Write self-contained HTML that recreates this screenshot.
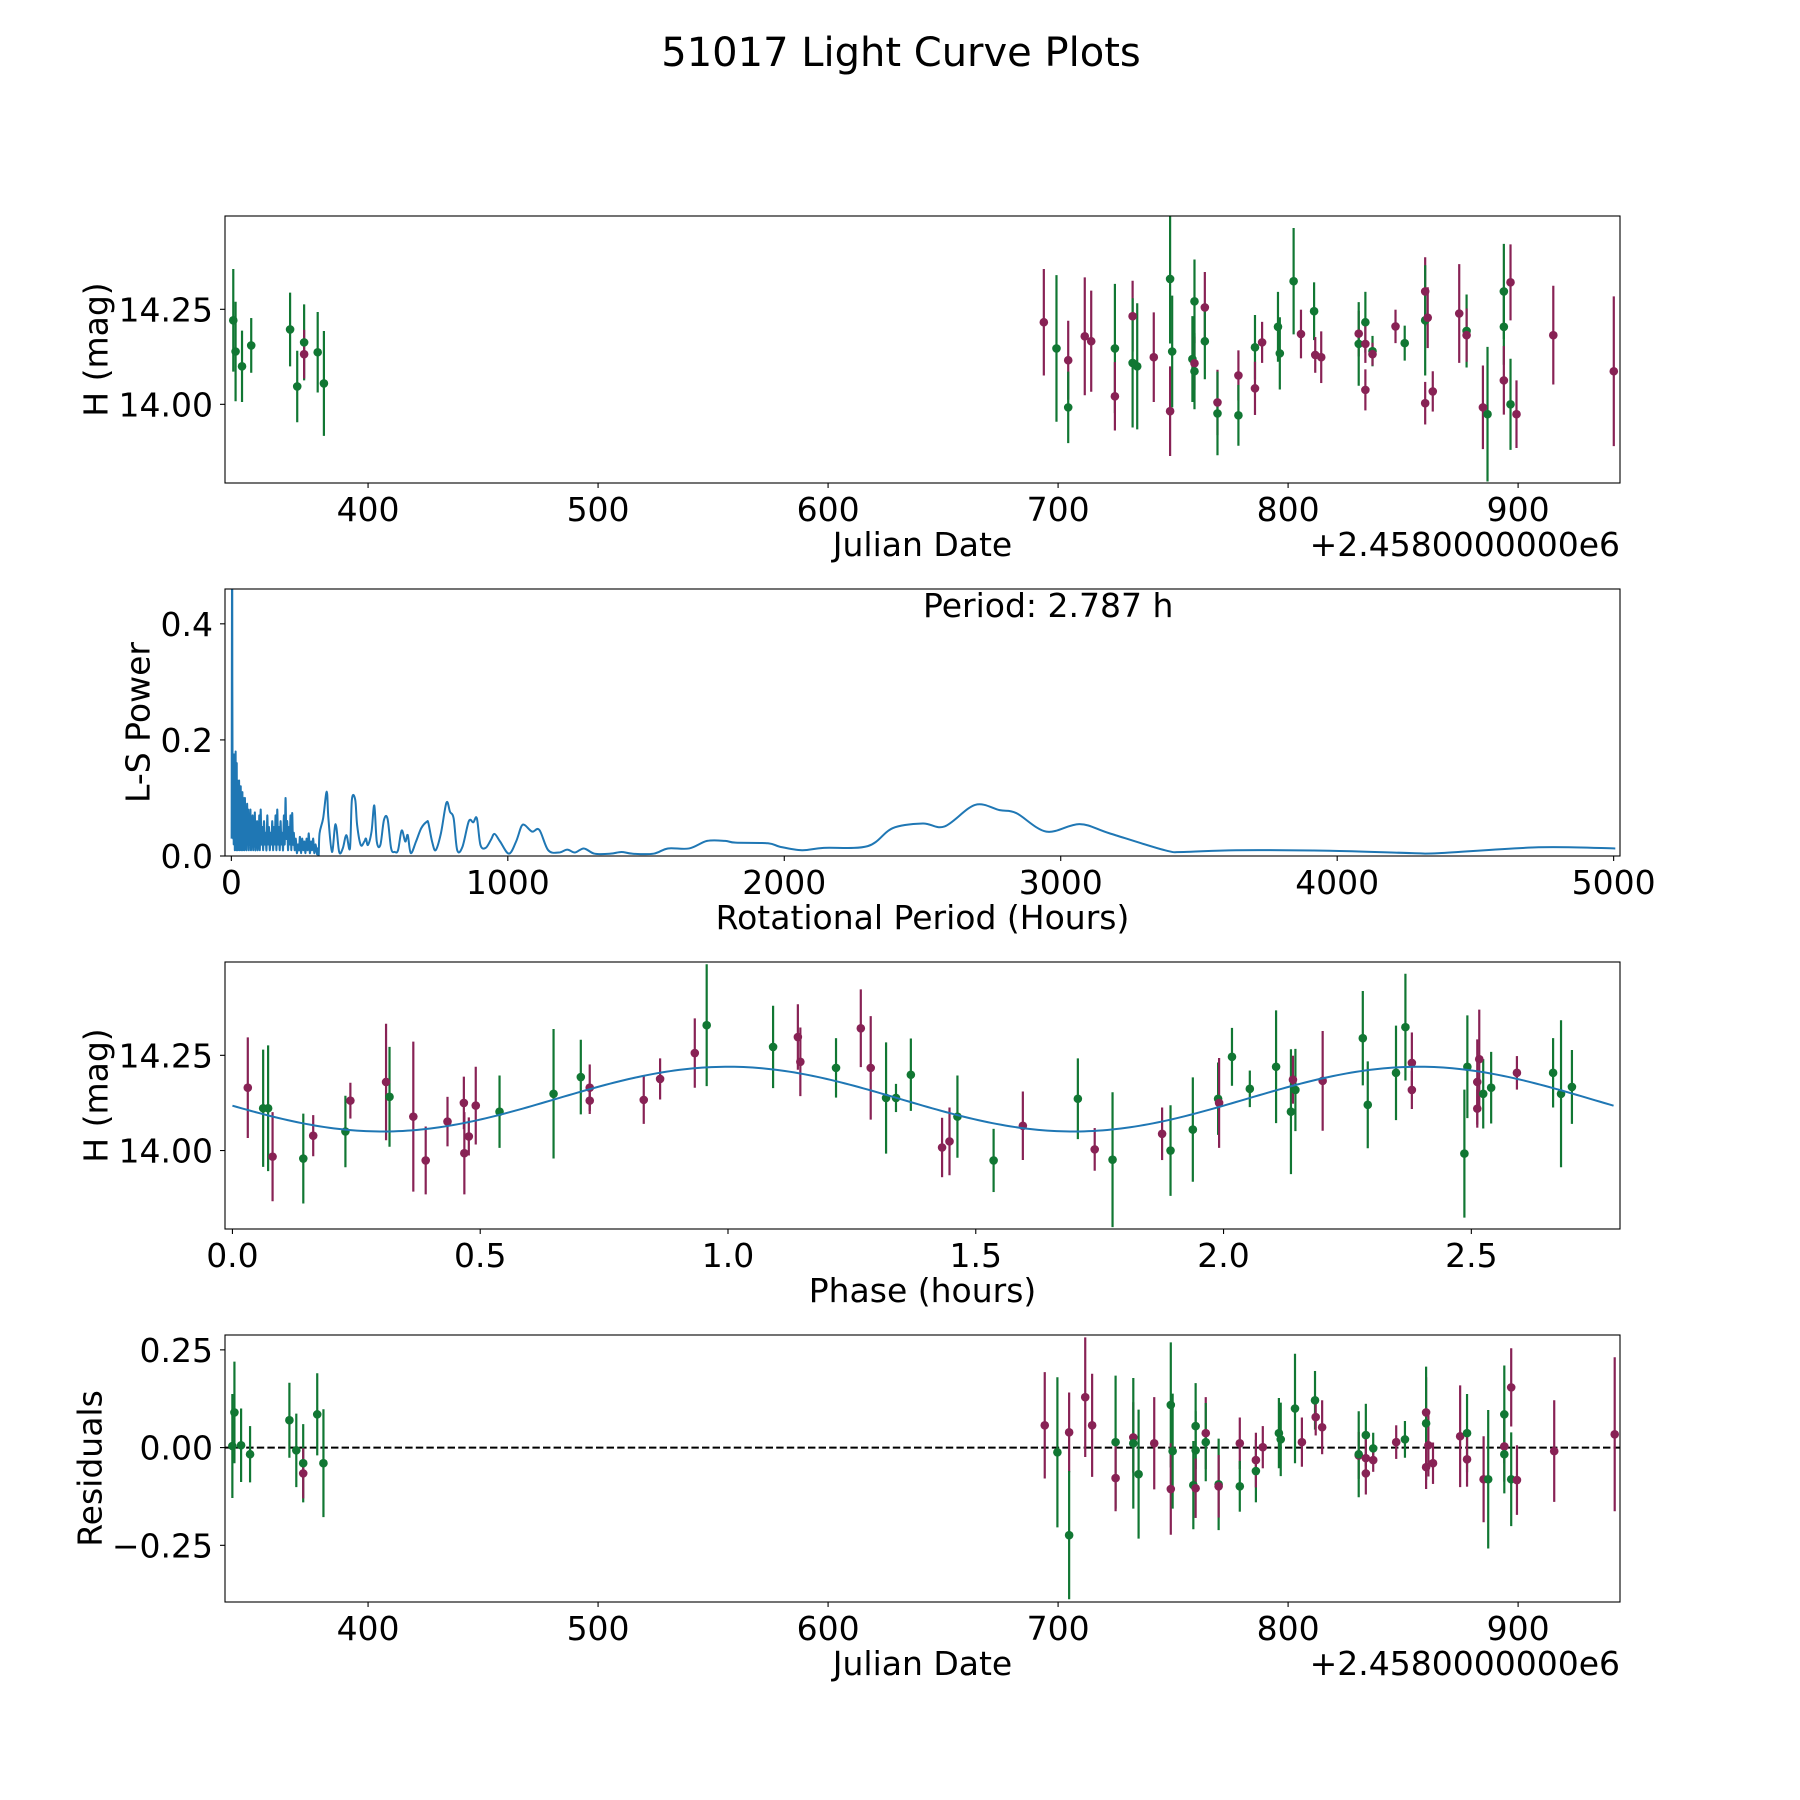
<!DOCTYPE html>
<html><head><meta charset="utf-8"><title>51017 Light Curve Plots</title>
<style>
html,body{margin:0;padding:0;background:#fff;}
svg{display:block;font-family:"DejaVu Sans","Liberation Sans",sans-serif;}
</style></head>
<body>
<svg id="fig" width="1800" height="1800" viewBox="0 0 1800 1800" xmlns="http://www.w3.org/2000/svg">
<rect width="1800" height="1800" fill="#fff"/>
<text x="901" y="66" font-size="40" text-anchor="middle" fill="#000">51017 Light Curve Plots</text>
</svg>
<script>
// ---------- Panel 1: light curve (Julian Date offset from 2458000) ----------
const lcJD = [341.4,342.4,345.2,349.2,366.1,369.2,372.2,372.2,378.1,380.8,
 693.8,699.3,704.4,704.4,711.6,714.4,724.7,724.7,732.4,732.4,734.4,741.6,748.7,748.7,749.6,758.4,759.3,759.3,759.3,763.8,763.8,769.3,769.3,778.4,778.4,785.6,785.6,788.7,795.6,796.4,802.4,805.6,811.3,811.8,814.4,830.7,830.7,833.6,833.6,833.6,836.7,836.7,846.7,850.7,859.6,859.6,860.7,859.6,862.9,874.4,877.6,877.6,884.7,886.7,893.8,893.8,893.8,896.7,896.7,899.3,915.3,941.6];
const lcMag = [14.221,14.139,14.100,14.155,14.197,14.047,14.163,14.132,14.137,14.055,
 14.216,14.147,14.116,13.992,14.179,14.166,14.147,14.021,14.232,14.109,14.100,14.124,14.330,13.982,14.139,14.119,14.271,14.108,14.087,14.255,14.166,14.005,13.976,14.076,13.971,14.150,14.042,14.163,14.204,14.134,14.324,14.185,14.245,14.130,14.124,14.186,14.159,14.216,14.159,14.038,14.140,14.132,14.205,14.161,14.297,14.221,14.228,14.003,14.034,14.239,14.193,14.182,13.992,13.974,14.297,14.204,14.063,14.321,14.000,13.974,14.182,14.087];
const lcErr = [0.135,0.131,0.094,0.072,0.097,0.094,0.100,0.064,0.106,0.138,
 0.140,0.193,0.104,0.094,0.155,0.133,0.170,0.090,0.093,0.170,0.166,0.118,0.170,0.118,0.147,0.113,0.110,0.070,0.100,0.093,0.100,0.086,0.110,0.066,0.080,0.085,0.070,0.054,0.092,0.095,0.140,0.064,0.076,0.047,0.068,0.060,0.110,0.080,0.050,0.054,0.040,0.030,0.044,0.046,0.090,0.145,0.080,0.056,0.053,0.130,0.096,0.070,0.110,0.177,0.125,0.100,0.090,0.100,0.120,0.089,0.130,0.197];
const lcBand = ['g','g','g','g','g','g','g','m','g','g',
 'm','g','m','g','m','m','g','m','m','g','g','m','g','m','g','g','g','m','g','m','g','m','g','m','g','g','m','m','g','g','g','m','g','m','m','m','g','g','m','m','g','m','m','g','m','g','m','m','m','m','g','m','m','g','g','g','m','m','g','m','m','m'];

// ---------- Panel 2: Lomb-Scargle periodogram ----------
const lsPeriod = [1,2.8,3.5,4.5,5.5,6.5,7.5,8.5,9.5,10.5,11.5,12.5,13.5,14.5,15.5,16.5,17.5,18.5,19.5,20.5,22,23.5,25,26.5,28,29.5,31,32.5,34,35.5,37,38.5,40,41.5,43,44.5,46,47.5,49,51,53,55,57,59,61,63,65,67,69,71,73,75,77,79,81,83,85,87,89,91,93,95,97,99,101,103,106,109,112,115,118,121,124,127,130,133,136,139,142,145,148,151,154,157,160,163,166,169,172,175,178,181,184,187,190,193,196,199,202,205,208,211,214,217,220,223,226,229,233,237,241,245,248,252,256,260,264,268,272,276,280,284,288,292,296,300,305,310,313,316,
 319,332,345,351,364,377,390,403,416,429,436,448,455,468,481,487,494,507,517,526,539,552,565,578,591,603,616,629,638,649,668,687,707,713,726,739,758,778,791,804,817,836,859,875,888,901,920,939,952,972,1004,1030,1049,1062,1088,1114,1146,1185,1215,1243,1275,1314,1372,1411,1450,1527,1579,1656,1721,1786,1824,1941,1984,2064,2143,2302,2392,2501,2580,2690,2779,2839,2948,3068,3177,3376,3445,3634,3972,4270,4370,4728,5006];
const lsPower = [0.03,0.62,0.30,0.12,0.17,0.03,0.16,0.02,0.175,0.04,0.15,0.01,0.17,0.03,0.18,0.02,0.15,0.01,0.16,0.03,0.13,0.01,0.12,0.02,0.13,0.01,0.12,0.03,0.12,0.01,0.10,0.02,0.11,0.01,0.10,0.03,0.09,0.01,0.10,0.02,0.08,0.01,0.09,0.02,0.08,0.01,0.07,0.02,0.08,0.01,0.06,0.02,0.07,0.01,0.06,0.02,0.075,0.01,0.05,0.02,0.06,0.01,0.05,0.02,0.07,0.01,0.08,0.02,0.05,0.01,0.06,0.02,0.04,0.01,0.07,0.02,0.05,0.01,0.04,0.02,0.06,0.01,0.05,0.02,0.07,0.01,0.08,0.02,0.05,0.01,0.06,0.02,0.04,0.01,0.07,0.02,0.10,0.03,0.06,0.01,0.05,0.02,0.07,0.01,0.074,0.02,0.04,0.01,0.03,0.005,0.02,0.01,0.033,0.005,0.03,0.01,0.025,0.005,0.03,0.01,0.039,0.005,0.025,0.01,0.03,0.005,0.02,0.003,0.013,0.002,
 0.039,0.065,0.111,0.065,0.007,0.055,0.007,0.013,0.036,0.013,0.097,0.097,0.053,0.019,0.025,0.030,0.019,0.042,0.087,0.025,0.019,0.062,0.064,0.013,0.007,0.010,0.044,0.025,0.036,0.005,0.025,0.048,0.059,0.056,0.025,0.010,0.039,0.092,0.076,0.065,0.010,0.016,0.060,0.058,0.065,0.019,0.014,0.028,0.038,0.025,0.004,0.025,0.051,0.053,0.042,0.045,0.010,0.006,0.011,0.006,0.013,0.004,0.004,0.007,0.004,0.004,0.013,0.013,0.026,0.026,0.023,0.022,0.016,0.010,0.014,0.017,0.048,0.056,0.051,0.088,0.079,0.074,0.042,0.055,0.039,0.010,0.007,0.010,0.009,0.005,0.005,0.015,0.013];
const periodLabel = 'Period: 2.787 h';

// ---------- Panel 3: phase-folded ----------
const phHours = [0.031,0.062,0.072,0.081,0.143,0.163,0.228,0.238,0.310,0.317,0.365,0.390,0.434,0.467,0.468,0.477,0.491,0.539,0.648,0.703,0.721,0.721,0.830,0.863,0.933,0.957,1.091,1.141,1.146,1.218,1.268,1.288,1.319,1.339,1.369,
 1.432,1.447,1.463,1.536,1.595,1.706,1.740,1.776,1.876,1.893,1.938,1.989,1.991,2.017,2.053,2.106,2.136,2.140,2.145,2.200,2.281,2.291,2.348,2.367,2.380,2.380,2.486,2.492,2.512,2.516,2.512,2.524,2.540,2.592,2.665,2.681,2.703];
const phMag = [14.165,14.111,14.111,13.984,13.979,14.039,14.050,14.131,14.180,14.141,14.089,13.974,14.076,14.125,13.993,14.037,14.118,14.102,14.149,14.193,14.165,14.131,14.133,14.188,14.256,14.329,14.272,14.298,14.233,14.217,14.321,14.217,14.138,14.138,14.199,
 14.008,14.024,14.089,13.974,14.065,14.136,14.003,13.976,14.044,14.000,14.055,14.136,14.125,14.246,14.162,14.220,14.102,14.186,14.159,14.183,14.295,14.120,14.204,14.324,14.230,14.159,13.992,14.220,14.180,14.240,14.110,14.149,14.165,14.204,14.204,14.149,14.167];
const phErr = [0.132,0.154,0.165,0.117,0.118,0.054,0.094,0.047,0.153,0.131,0.197,0.089,0.065,0.069,0.108,0.050,0.102,0.095,0.170,0.098,0.061,0.035,0.063,0.054,0.091,0.160,0.108,0.086,0.090,0.078,0.102,0.136,0.146,0.037,0.095,
 0.078,0.089,0.108,0.083,0.090,0.106,0.056,0.177,0.069,0.119,0.137,0.095,0.118,0.076,0.048,0.148,0.164,0.063,0.108,0.131,0.124,0.114,0.124,0.140,0.080,0.050,0.168,0.135,0.112,0.130,0.050,0.091,0.094,0.044,0.091,0.193,0.097];
const phBand = ['m','g','g','m','g','m','g','m','m','g','m','m','m','m','m','m','m','g','g','g','m','m','m','m','m','g','g','m','m','g','m','m','g','g','g',
 'm','m','g','g','m','g','m','g','m','g','g','g','m','g','g','g','g','m','g','m','g','g','g','g','m','m','g','g','m','m','m','g','g','m','g','g','g'];
const modelMean = 14.135;
const modelAmp = 0.085;
const modelPeakPhase = 1.0;
const modelCycle = 1.3935;
const foldPeriod = 2.787;

// ---------- Panel 4: residuals ----------
const resJD = [341.0,341.9,344.8,348.7,365.8,368.8,371.8,371.8,377.9,380.6,
 694.2,699.7,704.8,704.8,711.8,714.8,725.0,725.0,732.7,732.7,735.0,741.8,749.0,749.0,749.8,758.8,759.8,759.8,759.8,764.2,764.2,769.8,769.8,779.0,779.0,786.0,786.0,789.0,796.0,796.8,803.0,806.0,811.7,812.0,814.8,830.7,830.7,833.8,833.8,833.8,837.0,837.0,847.0,850.8,860.0,860.0,861.0,860.0,863.0,874.8,877.8,877.8,885.0,887.0,894.0,894.0,894.0,897.0,897.0,899.5,915.7,942.0];
const resVal = [0.004,0.090,0.006,-0.017,0.070,-0.007,-0.040,-0.066,0.085,-0.040,
 0.057,-0.012,0.039,-0.224,0.129,0.057,0.014,-0.078,0.026,0.011,-0.068,0.011,0.109,-0.106,-0.009,-0.096,0.055,-0.007,-0.104,0.037,0.014,-0.094,-0.099,0.011,-0.099,-0.060,-0.032,0.001,0.037,0.021,0.100,0.014,0.121,0.078,0.052,-0.020,-0.017,0.032,-0.027,-0.066,-0.002,-0.032,0.014,0.021,0.090,0.062,0.006,-0.050,-0.040,0.029,0.037,-0.030,-0.081,-0.081,0.085,0.003,-0.017,0.154,-0.081,-0.083,-0.009,0.034];
const resErr = [0.133,0.130,0.094,0.072,0.096,0.094,0.100,0.064,0.105,0.138,
 0.136,0.192,0.102,0.164,0.153,0.132,0.170,0.085,0.090,0.167,0.165,0.118,0.160,0.117,0.147,0.113,0.110,0.100,0.076,0.092,0.100,0.117,0.080,0.066,0.065,0.080,0.070,0.054,0.090,0.094,0.140,0.063,0.075,0.047,0.069,0.060,0.110,0.080,0.050,0.054,0.040,0.030,0.043,0.047,0.090,0.145,0.080,0.056,0.053,0.130,0.100,0.070,0.110,0.177,0.125,0.090,0.100,0.100,0.120,0.089,0.130,0.197];
const resBand = ['g','g','g','g','g','g','g','m','g','g',
 'm','g','m','g','m','m','g','m','m','g','g','m','g','m','g','g','g','g','m','m','g','g','m','m','g','g','m','m','g','g','g','m','g','m','m','m','g','g','m','m','g','m','m','g','m','g','m','m','m','m','g','m','m','g','g','m','g','m','g','m','m','m'];

// ---------- layout ----------
const NS = 'http://www.w3.org/2000/svg';
const svg = document.getElementById('fig');
const AX_L = 225, AX_R = 1620, AX_H = 267;
const COLORS = {g:'#117733', m:'#882255'};
function mk(tag, attrs, parent){
  const e = document.createElementNS(NS, tag);
  for (const k in attrs) e.setAttribute(k, attrs[k]);
  (parent||svg).appendChild(e);
  return e;
}
function makePanel(id, top, xmin, xmax, ymin, ymax){
  const p = {top, bottom: top+AX_H, xmin, xmax, ymin, ymax};
  p.x = v => AX_L + (v - xmin) / (xmax - xmin) * (AX_R - AX_L);
  p.y = v => p.bottom - (v - ymin) / (ymax - ymin) * AX_H;
  const defs = mk('defs', {});
  const cp = mk('clipPath', {id: 'clip-'+id}, defs);
  mk('rect', {x: AX_L, y: top, width: AX_R-AX_L, height: AX_H}, cp);
  p.g = mk('g', {'clip-path': 'url(#clip-'+id+')'});
  
  
  return p;
}
function frame(p, id){
  const r = mk('rect', {x: AX_L, y: p.top, width: AX_R-AX_L, height: AX_H, fill: 'none', stroke: '#000', 'stroke-width': 1.1});
  
  
}
function xTicks(p, id, vals, labels){
  vals.forEach((v,i) => {
    const X = p.x(v);
    const t = mk('line', {x1: X, x2: X, y1: p.bottom, y2: p.bottom+5, stroke: '#000', 'stroke-width': 1.1});
    
    
    const tx = mk('text', {x: X, y: p.bottom+38, 'font-size': 33, 'text-anchor': 'middle', fill: '#000'});
    tx.textContent = labels[i];
    
    
  });
}
function yTicks(p, id, vals, labels){
  vals.forEach((v,i) => {
    const Y = p.y(v);
    const t = mk('line', {x1: AX_L-5, x2: AX_L, y1: Y, y2: Y, stroke: '#000', 'stroke-width': 1.1});
    
    
    const tx = mk('text', {x: 213, y: Y+12, 'font-size': 33, 'text-anchor': 'end', fill: '#000'});
    tx.textContent = labels[i];
    
    
  });
}
function xLabel(p, id, txt){
  const t = mk('text', {x: (AX_L+AX_R)/2, y: p.bottom+73, 'font-size': 33, 'text-anchor': 'middle', fill: '#000'});
  t.textContent = txt;
  
  
}
function yLabel(p, id, txt, cx){
  const cy = p.top + AX_H/2;
  const t = mk('text', {x: cx, y: cy, 'font-size': 33, 'text-anchor': 'middle', 'dominant-baseline': 'central', fill: '#000', transform: 'rotate(-90 '+cx+' '+cy+')'});
  t.textContent = txt;
  
  
}
function offsetText(p, id){
  const t = mk('text', {x: AX_R, y: p.bottom+73, 'font-size': 33, 'text-anchor': 'end', fill: '#000'});
  t.textContent = '+2.4580000000e6';
  
  
}
function errPoints(p, id, xs, ys, es, bands){
  xs.forEach((xv,i) => {
    const X = p.x(xv), c = COLORS[bands[i]];
    const l = mk('line', {x1: X, x2: X, y1: p.y(ys[i]+es[i]), y2: p.y(ys[i]-es[i]), stroke: c, 'stroke-width': 2.2}, p.g);
    
    
  });
  xs.forEach((xv,i) => {
    const c = COLORS[bands[i]];
    const d = mk('circle', {cx: p.x(xv), cy: p.y(ys[i]), r: 4.3, fill: c}, p.g);
    
    
  });
}

// Panel 1
const p1 = makePanel('light-curve', 216, 337.8, 944.3, 13.793, 14.4955);
errPoints(p1, 'light-curve', lcJD, lcMag, lcErr, lcBand);
frame(p1, 'light-curve');
xTicks(p1, 'light-curve', [400,500,600,700,800,900], ['400','500','600','700','800','900']);
yTicks(p1, 'light-curve', [14.00,14.25], ['14.00','14.25']);
xLabel(p1, 'light-curve', 'Julian Date');
offsetText(p1, 'light-curve');
yLabel(p1, 'light-curve', 'H (mag)', 96);

// Panel 2 (smoothed Catmull-Rom path through sampled points)
const p2 = makePanel('periodogram', 589, -23, 5023, 0, 0.46);
const pts2 = lsPeriod.map((v,i) => [p2.x(v), p2.y(lsPower[i])]);
let d2 = 'M' + pts2[0][0].toFixed(2) + ' ' + pts2[0][1].toFixed(2);
for (let i = 0; i < pts2.length-1; i++) {
  const a = pts2[Math.max(0,i-1)], b = pts2[i], c = pts2[i+1], e = pts2[Math.min(pts2.length-1,i+2)];
  const c1x = b[0] + (c[0]-a[0])/6, c1y = b[1] + (c[1]-a[1])/6;
  const c2x = c[0] - (e[0]-b[0])/6, c2y = c[1] - (e[1]-b[1])/6;
  d2 += 'C' + c1x.toFixed(2) + ' ' + c1y.toFixed(2) + ' ' + c2x.toFixed(2) + ' ' + c2y.toFixed(2) + ' ' + c[0].toFixed(2) + ' ' + c[1].toFixed(2);
}
const ln2 = mk('path', {d: d2, fill: 'none', stroke: '#1f77b4', 'stroke-width': 2, 'stroke-linejoin': 'round'}, p2.g);


frame(p2, 'periodogram');
xTicks(p2, 'periodogram', [0,1000,2000,3000,4000,5000], ['0','1000','2000','3000','4000','5000']);
yTicks(p2, 'periodogram', [0,0.2,0.4], ['0.0','0.2','0.4']);
xLabel(p2, 'periodogram', 'Rotational Period (Hours)');
yLabel(p2, 'periodogram', 'L-S Power', 138);
const pt = mk('text', {x: 923, y: 617, 'font-size': 33, fill: '#000'});
pt.textContent = periodLabel;



// Panel 3
const p3 = makePanel('phase-fold', 962, -0.015, 2.8, 13.794, 14.495);
errPoints(p3, 'phase-fold', phHours, phMag, phErr, phBand);
let d3 = '';
for (let k = 0; k <= 300; k++) {
  const ph = foldPeriod * k / 300;
  const m = modelMean + modelAmp * Math.cos(2*Math.PI*(ph - modelPeakPhase)/modelCycle);
  d3 += (k ? 'L' : 'M') + p3.x(ph).toFixed(2) + ' ' + p3.y(m).toFixed(2);
}
const ln3 = mk('path', {d: d3, fill: 'none', stroke: '#1f77b4', 'stroke-width': 2}, p3.g);


frame(p3, 'phase-fold');
xTicks(p3, 'phase-fold', [0,0.5,1,1.5,2,2.5], ['0.0','0.5','1.0','1.5','2.0','2.5']);
yTicks(p3, 'phase-fold', [14.00,14.25], ['14.00','14.25']);
xLabel(p3, 'phase-fold', 'Phase (hours)');
yLabel(p3, 'phase-fold', 'H (mag)', 96);

// Panel 4
const p4 = makePanel('residuals', 1335, 337.8, 944.3, -0.395, 0.288);
const zl = mk('line', {x1: AX_L, x2: AX_R, y1: p4.y(0), y2: p4.y(0), stroke: '#000', 'stroke-width': 2, 'stroke-dasharray': '7.4 3.2'}, p4.g);


errPoints(p4, 'residuals', resJD, resVal, resErr, resBand);
frame(p4, 'residuals');
xTicks(p4, 'residuals', [400,500,600,700,800,900], ['400','500','600','700','800','900']);
yTicks(p4, 'residuals', [-0.25,0,0.25], ['\u22120.25','0.00','0.25']);
xLabel(p4, 'residuals', 'Julian Date');
offsetText(p4, 'residuals');
yLabel(p4, 'residuals', 'Residuals', 90);
</script>
</body></html>
